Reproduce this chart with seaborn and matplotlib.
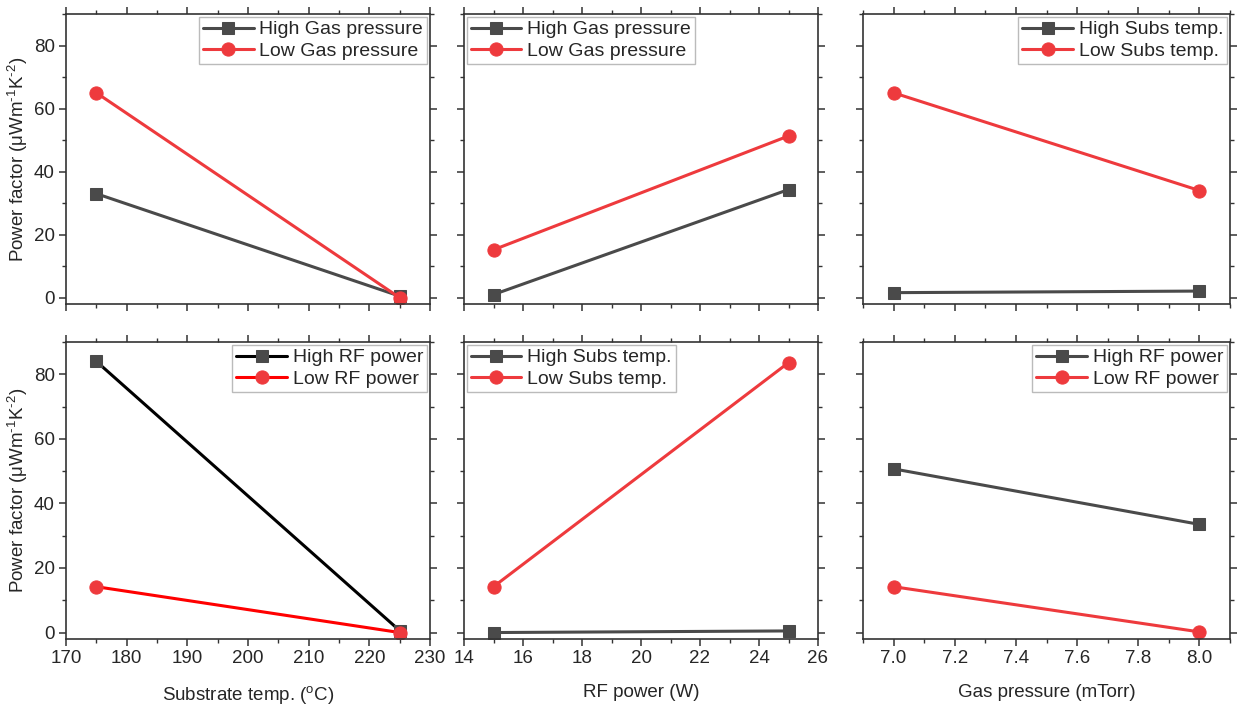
import numpy as np, pandas as pd
from matplotlib import pyplot as plt
from matplotlib.ticker import MultipleLocator
import seaborn as sns

# === DATA
subs_temp = [175, 225]
rf_power = [15, 25]
gas_pressure = [7.0, 8.0]

# top row
pf_subs_high_gas = [33.0, 0.5]
pf_subs_low_gas = [65.0, 0.0]
pf_rf_high_gas = [1.0, 34.3]
pf_rf_low_gas = [15.2, 51.3]
pf_gas_high_subs = [1.6, 2.1]
pf_gas_low_subs = [65.0, 34.0]

# bottom row
pf_subs_high_rf = [84.0, 0.6]
pf_subs_low_rf = [14.2, 0.0]
pf_rf_high_subs = [0.0, 0.5]
pf_rf_low_subs = [14.2, 83.6]
pf_gas_high_rf = [50.7, 33.5]
pf_gas_low_rf = [14.2, 0.2]

sns.set_style("ticks")
plt.rcParams["font.family"] = ["Liberation Sans", "DejaVu Sans"]
plt.rcParams["mathtext.fontset"] = "custom"
plt.rcParams["mathtext.rm"] = "Liberation Sans"
plt.rcParams["mathtext.it"] = "Liberation Sans:italic"

GREY = "#4a4a4a"
RED = "#ee3a3d"

fig = plt.figure(figsize=(12.39, 7.06), dpi=100)

W, H = 1239, 706
cols = [(66, 364), (464, 354), (863, 367)]
rows = [(14, 304), (342, 639)]

panels = [
    # row, col, x, high, low, high label, low label, legend loc, line colours
    (0, 0, subs_temp, pf_subs_high_gas, pf_subs_low_gas, "High Gas pressure", "Low Gas pressure", "upper right", (GREY, RED)),
    (0, 1, rf_power, pf_rf_high_gas, pf_rf_low_gas, "High Gas pressure", "Low Gas pressure", "upper left", (GREY, RED)),
    (0, 2, gas_pressure, pf_gas_high_subs, pf_gas_low_subs, "High Subs temp.", "Low Subs temp.", "upper right", (GREY, RED)),
    (1, 0, subs_temp, pf_subs_high_rf, pf_subs_low_rf, "High RF power", "Low RF power", "upper right", ("black", "#ff0000")),
    (1, 1, rf_power, pf_rf_high_subs, pf_rf_low_subs, "High Subs temp.", "Low Subs temp.", "upper left", (GREY, RED)),
    (1, 2, gas_pressure, pf_gas_high_rf, pf_gas_low_rf, "High RF power", "Low RF power", "upper right", (GREY, RED)),
]

xlims = [(170, 230), (14, 26), (6.9, 8.1)]
xmajor = [10, 2, 0.2]
xminor = [5, 1, 0.1]
xlabels = ["Substrate temp. ($^{\\mathrm{o}}$C)", "RF power (W)", "Gas pressure (mTorr)"]
ylabel = "Power factor (\u03bcWm$^{\\text{-1}}$K$^{\\text{-2}}$)"

for r, c, x, hi, lo, hi_lab, lo_lab, loc, (c_hi, c_lo) in panels:
    left, width = cols[c]
    top, bottom = rows[r]
    ax = fig.add_axes([left / W, 1 - bottom / H, width / W, (bottom - top) / H])

    sns.lineplot(x=x, y=hi, ax=ax, color=c_hi, lw=2.2, marker="s", markersize=8.5,
                 markerfacecolor=GREY, markeredgecolor=GREY, label=hi_lab)
    sns.lineplot(x=x, y=lo, ax=ax, color=c_lo, lw=2.2, marker="o", markersize=9.5,
                 markerfacecolor=RED, markeredgecolor=RED, label=lo_lab)

    ax.set_xlim(xlims[c])
    ax.set_ylim(-2, 90)
    ax.xaxis.set_major_locator(MultipleLocator(xmajor[c]))
    ax.xaxis.set_minor_locator(MultipleLocator(xminor[c]))
    ax.yaxis.set_major_locator(MultipleLocator(20))
    ax.yaxis.set_minor_locator(MultipleLocator(10))
    if c == 2:
        ax.xaxis.set_major_formatter(plt.FormatStrFormatter("%.1f"))

    ax.tick_params(which="both", top=True, right=True, direction="out",
                   color="#333333", labelsize=13.5, pad=3)
    ax.tick_params(which="major", length=5, width=1.1)
    ax.tick_params(which="minor", length=3, width=1.0)
    for s in ax.spines.values():
        s.set_color("#333333")
        s.set_linewidth(1.2)

    if r == 0:
        ax.tick_params(labelbottom=False)
        ax.set_xlabel("")
    else:
        ax.set_xlabel(xlabels[c], fontsize=13.5, labelpad=12)
    if c == 0:
        ax.set_ylabel(ylabel, fontsize=13.5, labelpad=3)
    else:
        ax.tick_params(labelleft=False)
        ax.set_ylabel("")

    leg = ax.legend(loc=loc, fontsize=14, frameon=True, fancybox=False,
                    framealpha=1, edgecolor="#bbbbbb", borderaxespad=0.15,
                    borderpad=0.2, handlelength=2.6, handletextpad=0.3,
                    labelspacing=0.2)
    leg.get_frame().set_linewidth(1.0)

plt.savefig("out.png", dpi=100)
